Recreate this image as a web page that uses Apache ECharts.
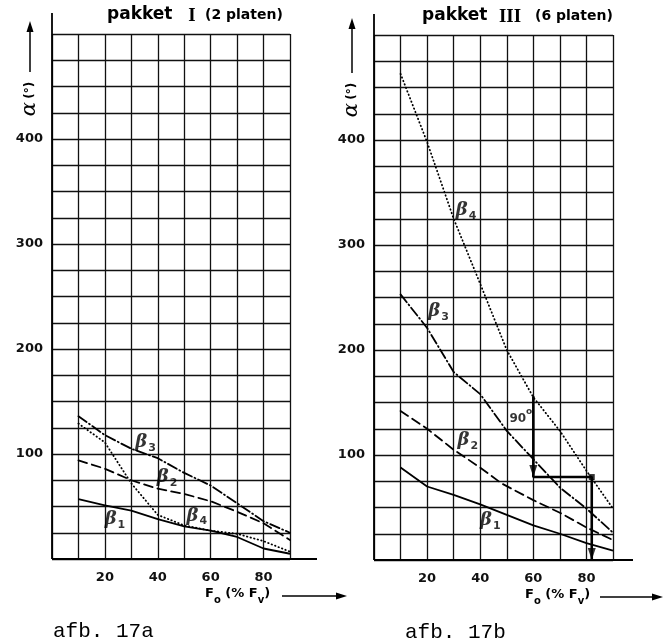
<!DOCTYPE html>
<html><head><meta charset="utf-8">
<script src="https://cdn.jsdelivr.net/npm/echarts@6/dist/echarts.min.js"></script>
<style>html,body{margin:0;padding:0;background:#fff}#c{width:665px;height:643px}</style>
</head><body><div id="c"></div>
<script>
// ---- data ----
const xTickLabels = [20, 40, 60, 80];
const yTickLabels = [100, 200, 300, 400];
const xValues = [10, 20, 30, 40, 50, 60, 70, 80, 90];
const leftB1 = [57, 51, 46, 38, 31, 27, 21, 10, 5];
const leftB2 = [94, 86, 75, 67, 62, 55, 45, 34, 18];
const leftB3 = [136, 118, 105, 96, 82, 70, 53, 36, 25];
const leftB4 = [129, 111, 72, 42, 32, 27, 24, 17, 7];
const rightB2X = [10, 20, 30, 40, 48, 60, 70, 80, 90];
const rightB1 = [88, 70, 62, 53, 43, 33, 25, 16, 9];
const rightB2 = [142, 125, 105, 88, 73, 57, 45, 31, 19];
const rightB3 = [253, 221, 179, 158, 123, 96, 69, 49, 26];
const rightB4 = [463, 398, 325, 263, 200, 155, 123, 85, 49];
const leftLabels = [[23.8, 37, '1'], [43.5, 77, '2'], [35.4, 110, '3'], [54.8, 40, '4']];
const rightLabels = [[43.8, 37, '1'], [35.3, 113, '2'], [24.3, 236, '3'], [34.7, 332, '4']];
const annotPath = [[60, 156], [60, 79], [82, 79], [82, 0]];
const annotText = [55.3, 137, '90'];
const titles = [['pakket', 'I', '(2 platen)'], ['pakket', 'III', '(6 platen)']];
const captions = ['afb. 17a', 'afb. 17b'];

const pair = (xs, ys) => xs.map((x, i) => [x, ys[i]]);
const BLACK = '#111';
const tickFont = { fontFamily: 'DejaVu Sans', fontWeight: 'bold', fontSize: 13, color: BLACK };

function axes(g) {
  return {
    x: {
      type: 'value', gridIndex: g, min: 0, max: 90, interval: 10,
      axisLine: { show: false }, axisTick: { show: false },
      axisLabel: Object.assign({ margin: 12, formatter: v => xTickLabels.includes(v) ? String(v) : '' }, tickFont),
      splitLine: { show: true, lineStyle: { color: BLACK, width: 1.3 } }
    },
    y: {
      type: 'value', gridIndex: g, min: 0, max: 500, interval: 25,
      axisLine: { show: false }, axisTick: { show: false },
      axisLabel: Object.assign({ margin: 9, formatter: v => yTickLabels.includes(v) ? String(v) : '' }, tickFont),
      splitLine: { show: true, lineStyle: { color: BLACK, width: 1.3 } }
    }
  };
}
const a0 = axes(0), a1 = axes(1);

function curve(g, data, type, w) {
  return {
    type: 'line', xAxisIndex: g, yAxisIndex: g, data, symbol: 'none', silent: true,
    lineStyle: { color: '#000', width: w || 1.8, type, cap: type === 'solid' ? 'butt' : 'round' }
  };
}
const solid = 'solid', dashed = [9, 5], dashdot = [10, 3, 1, 3], dotted = [0.5, 3.2];

function betaLabels(g, arr) {
  return {
    type: 'scatter', xAxisIndex: g, yAxisIndex: g, data: arr, symbolSize: 1, silent: true,
    itemStyle: { color: 'rgba(0,0,0,0)' },
    label: {
      show: true, position: 'inside',
      formatter: p => '{b|β}{s|' + p.value[2] + '}',
      rich: {
        b: { fontFamily: 'DejaVu Serif', fontStyle: 'italic', fontWeight: 'bold', fontSize: 18, color: '#000', lineHeight: 20, verticalAlign: 'top' },
        s: { fontFamily: 'DejaVu Sans', fontWeight: 'bold', fontSize: 11, color: '#000', lineHeight: 12, verticalAlign: 'bottom', padding: [0, 0, 0, 1] }
      }
    }
  };
}

const option = {
  animation: false,
  backgroundColor: '#fff',
  grid: [
    { left: 52, top: 34, width: 238, height: 525 },
    { left: 374, top: 35, width: 239, height: 525 }
  ],
  xAxis: [a0.x, a1.x],
  yAxis: [a0.y, a1.y],
  series: [
    curve(0, pair(xValues, leftB1), solid),
    curve(0, pair(xValues, leftB2), dashed),
    curve(0, pair(xValues, leftB3), dashdot),
    curve(0, pair(xValues, leftB4), dotted, 1.8),
    curve(1, pair(xValues, rightB1), solid),
    curve(1, pair(rightB2X, rightB2), dashed),
    curve(1, pair(xValues, rightB3), dashdot),
    curve(1, pair(xValues, rightB4), dotted, 1.8),
    betaLabels(0, leftLabels),
    betaLabels(1, rightLabels),
    curve(1, annotPath, solid, 2.6),
    {
      type: 'scatter', xAxisIndex: 1, yAxisIndex: 1, silent: true,
      data: [annotPath[1], annotPath[3]],
      symbol: 'triangle', symbolRotate: 180, symbolSize: [8, 12], symbolOffset: [0, '-50%'],
      itemStyle: { color: '#000' }
    },
    {
      type: 'scatter', xAxisIndex: 1, yAxisIndex: 1, silent: true,
      data: [annotPath[2]], symbol: 'rect', symbolSize: 6, itemStyle: { color: '#000' }
    },
    {
      type: 'scatter', xAxisIndex: 1, yAxisIndex: 1, silent: true,
      data: [annotText], symbolSize: 1, itemStyle: { color: 'rgba(0,0,0,0)' },
      label: {
        show: true, position: 'inside', formatter: p => '{n|' + p.value[2] + '}{d|o}',
        rich: {
          n: { fontFamily: 'DejaVu Sans', fontWeight: 'bold', fontSize: 12, color: '#000', lineHeight: 18, verticalAlign: 'bottom' },
          d: { fontFamily: 'DejaVu Sans', fontWeight: 'bold', fontSize: 9, color: '#000', lineHeight: 10, verticalAlign: 'top' }
        }
      }
    }
  ]
};

const chart = echarts.init(document.getElementById('c'));
chart.setOption(option);

// ---- decorations positioned from the grids ----
const panels = [
  { g: 0, xExt: 27, tip: 13, titleX: [55, 140, 153], capX: 1, nameX: 153, lineX: [230, 295] },
  { g: 1, xExt: 20, tip: 17, titleX: [48, 136, 161], capX: 31, nameX: 151, lineX: [226, 289] }
];
const gfx = [];
panels.forEach((P, i) => {
  const o = chart.convertToPixel({ gridIndex: P.g }, [0, 0]);
  const t = chart.convertToPixel({ gridIndex: P.g }, [0, 500]);
  const r = chart.convertToPixel({ gridIndex: P.g }, [90, 0]);
  const top = t[1];
  gfx.push({ type: 'line', silent: true, shape: { x1: o[0], y1: top - 21, x2: o[0], y2: o[1] }, style: { stroke: '#000', lineWidth: 1.8 } });
  gfx.push({ type: 'line', silent: true, shape: { x1: o[0], y1: o[1], x2: r[0] + P.xExt, y2: o[1] }, style: { stroke: '#000', lineWidth: 2 } });
  const ax = o[0] - 22, tipY = top - P.tip;
  gfx.push({ type: 'line', silent: true, shape: { x1: ax, y1: tipY + 8, x2: ax, y2: top + 38 }, style: { stroke: '#000', lineWidth: 1.5 } });
  gfx.push({ type: 'polygon', silent: true, shape: { points: [[ax, tipY], [ax - 3.5, tipY + 11], [ax + 3.5, tipY + 11]] }, style: { fill: '#000' } });
  gfx.push({
    type: 'text', silent: true, x: ax, y: top + 65, rotation: Math.PI / 2,
    style: {
      text: '{a|α} {b|(°)}', textAlign: 'center', textVerticalAlign: 'middle',
      rich: {
        a: { fontFamily: 'DejaVu Serif', fontStyle: 'italic', fontSize: 21, fill: '#000' },
        b: { fontFamily: 'DejaVu Sans', fontWeight: 'bold', fontSize: 12, fill: '#000' }
      }
    }
  });
  const ny = o[1] + 37;
  gfx.push({
    type: 'text', silent: true, x: o[0] + P.nameX, y: ny,
    style: {
      text: '{f|F}{s|o}{f| (% F}{s|v}{f|)}', textAlign: 'left', textVerticalAlign: 'middle',
      rich: {
        f: { fontFamily: 'DejaVu Sans', fontWeight: 'bold', fontSize: 13, fill: '#000', lineHeight: 18, verticalAlign: 'top' },
        s: { fontFamily: 'DejaVu Sans', fontWeight: 'bold', fontSize: 10, fill: '#000', lineHeight: 12, verticalAlign: 'bottom' }
      }
    }
  });
  gfx.push({ type: 'line', silent: true, shape: { x1: o[0] + P.lineX[0], y1: ny, x2: o[0] + P.lineX[1] - 8, y2: ny }, style: { stroke: '#000', lineWidth: 1.5 } });
  gfx.push({ type: 'polygon', silent: true, shape: { points: [[o[0] + P.lineX[1], ny], [o[0] + P.lineX[1] - 11, ny - 3.5], [o[0] + P.lineX[1] - 11, ny + 3.5]] }, style: { fill: '#000' } });
  const ty = top - 19;
  gfx.push({ type: 'text', silent: true, x: o[0] + P.titleX[0], y: ty, style: { text: titles[i][0], font: 'bold 17px "DejaVu Sans"', fill: '#000', textVerticalAlign: 'middle' } });
  gfx.push({ type: 'text', silent: true, x: o[0] + P.titleX[1], y: ty + 1, style: { text: titles[i][1], font: 'bold 19px "Liberation Serif"', fill: '#000', textAlign: 'center', textVerticalAlign: 'middle' } });
  gfx.push({ type: 'text', silent: true, x: o[0] + P.titleX[2], y: ty, style: { text: titles[i][2], font: 'bold 14px "DejaVu Sans"', fill: '#000', textVerticalAlign: 'middle' } });
  gfx.push({ type: 'text', silent: true, x: o[0] + P.capX, y: o[1] + 72, style: { text: captions[i], font: '21px "Liberation Mono"', fill: '#000', textVerticalAlign: 'middle' } });
});
chart.setOption({ graphic: gfx });
</script>
</body></html>
